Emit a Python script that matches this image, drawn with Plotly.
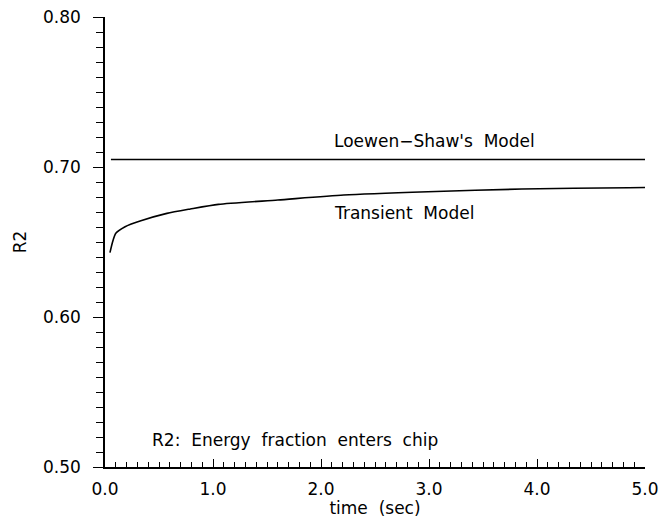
import plotly.graph_objects as go

# Transient model: R2 versus time
t_transient = [0.046, 0.07, 0.10, 0.186, 0.325, 0.573, 0.79, 1.05, 1.6, 2.21, 2.99, 3.86, 4.85, 5.0]
r2_transient = [0.6429, 0.650, 0.6558, 0.6602, 0.6640, 0.6691, 0.6720, 0.6751, 0.6780, 0.6813, 0.6835, 0.6853, 0.6862, 0.6863]

# Loewen-Shaw's model: constant fraction
t_loewen = [0.055, 5.0]
r2_loewen = [0.705, 0.705]

FONT = "DejaVu Sans"
SIZE = 17

fig = go.Figure()
fig.add_trace(go.Scatter(x=t_loewen, y=r2_loewen, mode="lines",
                         line=dict(color="black", width=1.6), showlegend=False))
fig.add_trace(go.Scatter(x=t_transient, y=r2_transient, mode="lines",
                         line=dict(color="black", width=1.6, shape="spline", smoothing=0.6),
                         showlegend=False))

label_font = dict(family=FONT, size=SIZE, color="black")
fig.add_annotation(x=2.10, y=0.7175, text="Loewen\u2212Shaw's  Model", showarrow=False,
                   xanchor="left", font=label_font)
fig.add_annotation(x=2.10, y=0.6693, text="Transient  Model", showarrow=False,
                   xanchor="left", font=label_font)
fig.add_annotation(x=0.42, y=0.518, text="R2:  Energy  fraction  enters  chip", showarrow=False,
                   xanchor="left", font=label_font)

fig.update_layout(
    width=662, height=518,
    margin=dict(l=105, r=17, t=17, b=51),
    plot_bgcolor="white", paper_bgcolor="white",
    font=dict(family=FONT, size=SIZE, color="black"),
    xaxis=dict(range=[0, 5], dtick=1, tick0=0, tickformat=".1f", automargin=False,
               showgrid=False, zeroline=False, showline=True, linecolor="black", linewidth=1.5,
               ticks="inside", ticklen=8, tickwidth=1.2, tickcolor="black",
               minor=dict(dtick=0.1, ticks="inside", ticklen=5, tickwidth=1, tickcolor="black", showgrid=False),
               title=dict(text="time  (sec)", standoff=0, font=dict(size=SIZE)),
               ticklabelstandoff=6),
    yaxis=dict(range=[0.5, 0.8], dtick=0.1, tick0=0.5, tickformat=".2f", automargin=False,
               showgrid=False, zeroline=False, showline=True, linecolor="black", linewidth=1.5,
               ticks="outside", ticklen=10, tickwidth=1.2, tickcolor="black",
               minor=dict(dtick=0.01, ticks="outside", ticklen=7, tickwidth=1, tickcolor="black", showgrid=False),
               title=dict(text="R2", standoff=12, font=dict(size=SIZE)),
               ticklabelstandoff=9),
)

fig.write_html("out.html")
